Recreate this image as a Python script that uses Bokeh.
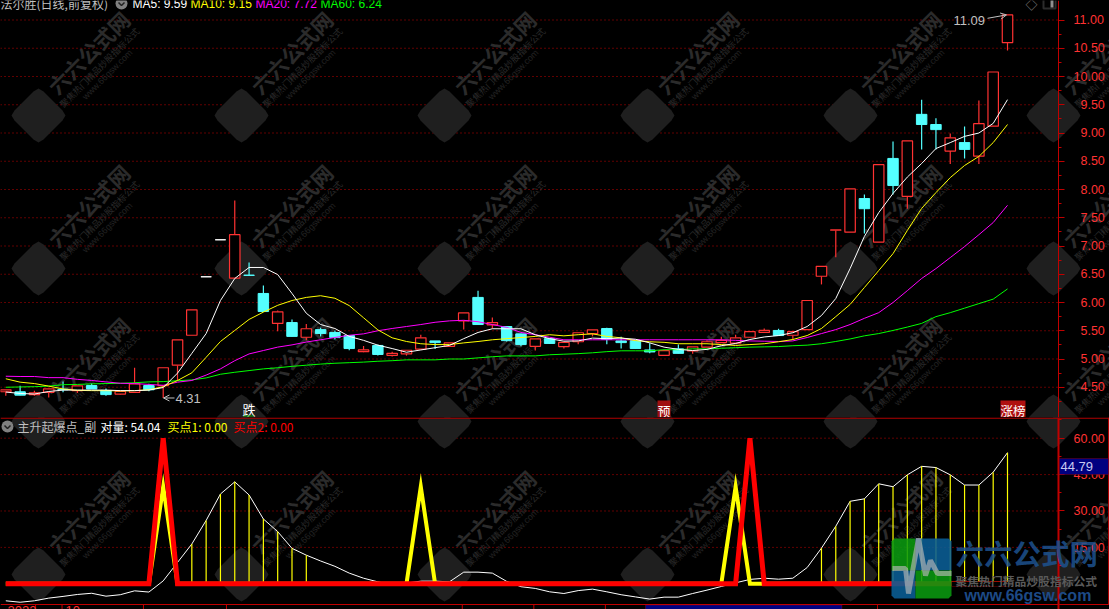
from bokeh.plotting import figure
from bokeh.layouts import column
from bokeh.embed import file_html
from bokeh.resources import INLINE
from bokeh.models import (Range1d, FixedTicker, CustomJSTickFormatter, Label, BoxAnnotation,
                          PolyAnnotation, Arrow, OpenHead)

# ---------- data ----------
open_ = [4.42,4.42,4.37,4.41,4.465,4.44,4.53,4.44,4.38,4.41,4.53,4.53,4.89,5.42,6.455,7.11,6.43,6.485,6.16,5.63,
         5.645,5.385,5.52,5.47,5.415,5.13,5.24,5.065,5.09,5.175,5.32,5.225,5.675,6.09,5.605,5.575,5.445,5.225,5.36,5.22,
         5.305,5.45,5.54,5.32,5.325,5.16,5.065,5.18,5.145,5.21,5.29,5.28,5.385,5.47,5.505,5.42,5.52,6.465,7.28,7.245,
         7.84,7.07,8.55,7.88,9.33,9.15,8.68,8.83,8.59,9.12,10.60]
close = [4.455,4.36,4.40,4.47,4.455,4.525,4.47,4.37,4.425,4.56,4.455,4.845,5.34,5.87,6.455,7.11,7.20,6.48,5.84,5.835,
         5.40,5.535,5.45,5.38,5.185,5.16,5.08,5.10,5.155,5.375,5.29,5.285,5.815,5.61,5.645,5.325,5.255,5.355,5.275,5.295,
         5.465,5.515,5.345,5.29,5.185,5.125,5.15,5.10,5.215,5.305,5.33,5.375,5.485,5.505,5.415,5.485,6.035,6.64,7.285,8.01,
         7.66,8.44,8.07,8.86,9.15,9.06,8.915,8.71,9.165,10.08,11.09]
high = [4.455,4.525,4.44,4.47,4.60,4.525,4.565,4.48,4.425,4.845,4.56,4.845,5.34,5.87,6.455,7.11,7.805,6.71,6.30,5.86,
        5.70,5.62,5.555,5.505,5.415,5.23,5.255,5.13,5.155,5.43,5.32,5.285,5.815,6.21,5.735,5.575,5.445,5.355,5.36,5.295,
        5.465,5.515,5.555,5.395,5.325,5.28,5.15,5.255,5.215,5.33,5.395,5.43,5.485,5.54,5.535,5.485,6.035,6.64,7.285,8.01,
        7.91,8.44,8.85,8.86,9.59,9.26,8.99,9.115,9.575,10.08,11.09]
low = [4.35,4.36,4.35,4.32,4.41,4.40,4.47,4.35,4.37,4.41,4.43,4.31,4.62,5.42,6.455,7.11,6.43,6.48,5.84,5.49,
       5.40,5.33,5.40,5.345,5.155,5.12,5.06,5.045,5.06,5.175,5.175,5.225,5.52,5.61,5.54,5.31,5.225,5.15,5.27,5.185,
       5.26,5.40,5.26,5.185,5.185,5.10,5.065,5.10,5.095,5.21,5.29,5.26,5.385,5.46,5.415,5.345,5.52,6.32,6.80,7.245,
       7.22,7.07,7.91,7.66,8.71,8.71,8.45,8.55,8.45,9.12,10.46]
ma5 = [4.415,4.39,4.38,4.425,4.45,4.45,4.45,4.45,4.44,4.44,4.45,4.495,4.75,5.10,5.45,6.035,6.425,6.62,6.62,6.495,
       6.16,5.81,5.61,5.54,5.40,5.33,5.245,5.185,5.12,5.16,5.20,5.24,5.36,5.47,5.535,5.535,5.535,5.43,5.36,5.315,
       5.32,5.37,5.36,5.37,5.35,5.285,5.21,5.17,5.15,5.17,5.235,5.275,5.345,5.39,5.415,5.465,5.575,5.77,6.07,6.60,
       7.17,7.59,7.93,8.22,8.46,8.725,8.83,8.94,9.00,9.17,9.59]
ma10 = [4.65,4.59,4.565,4.52,4.47,4.445,4.44,4.44,4.435,4.44,4.455,4.51,4.62,4.755,5.03,5.31,5.505,5.70,5.83,5.95,
        6.035,6.09,6.12,6.075,5.945,5.73,5.515,5.375,5.31,5.27,5.255,5.255,5.285,5.31,5.34,5.36,5.38,5.40,5.43,5.41,
        5.43,5.445,5.40,5.375,5.325,5.305,5.295,5.27,5.27,5.27,5.255,5.24,5.255,5.27,5.305,5.345,5.415,5.54,5.75,5.965,
        6.265,6.565,6.865,7.275,7.665,7.945,8.21,8.425,8.585,8.83,9.15]
ma20 = [4.695,4.69,4.69,4.67,4.67,4.64,4.62,4.595,4.57,4.565,4.55,4.535,4.59,4.62,4.715,4.825,4.97,5.09,5.15,5.21,
        5.25,5.30,5.34,5.38,5.42,5.445,5.50,5.54,5.575,5.61,5.65,5.675,5.685,5.66,5.61,5.56,5.47,5.43,5.385,5.34,
        5.34,5.34,5.34,5.34,5.34,5.34,5.34,5.34,5.34,5.34,5.34,5.33,5.32,5.315,5.31,5.32,5.38,5.45,5.52,5.61,
        5.72,5.82,6.00,6.21,6.425,6.60,6.795,6.99,7.20,7.415,7.72]
ma60 = [4.50,4.505,4.51,4.52,4.545,4.55,4.56,4.565,4.57,4.58,4.595,4.60,4.615,4.63,4.665,4.73,4.765,4.795,4.825,4.845,
        4.87,4.89,4.91,4.925,4.935,4.945,4.96,4.97,4.985,4.985,4.985,5.00,5.00,5.02,5.04,5.055,5.055,5.055,5.075,5.085,
        5.095,5.11,5.13,5.145,5.145,5.145,5.165,5.165,5.18,5.18,5.19,5.20,5.21,5.215,5.22,5.235,5.245,5.27,5.31,5.355,
        5.41,5.45,5.505,5.565,5.63,5.75,5.82,5.90,5.98,6.06,6.24]
duiliang = [-7.0,-7.6,-7.0,-5.9,-5.2,-4.4,-3.9,-5.1,-4.5,-2.9,-3.4,1.2,8.8,16.4,26.1,37.0,42.0,36.6,26.7,21.5,
            14.6,11.8,9.4,7.2,4.4,2.3,0.8,-0.4,0.3,1.1,1.1,0.8,4.8,4.8,4.4,1.0,-1.2,-1.9,-3.3,-4.0,
            -2.8,-2.2,-3.3,-4.5,-5.4,-6.3,-5.5,-5.5,-4.0,-2.6,-1.1,0.4,1.8,2.3,1.9,2.3,6.7,14.7,23.7,34.0,
            35.0,41.2,40.0,44.9,48.4,47.9,44.9,40.7,40.7,46.0,54.04]
buy1_peaks = {11: 40.0, 29: 40.0, 51: 40.0}
buy2_peaks = {11: 60.0, 52: 60.0}
stem_days = list(range(13, 22)) + list(range(57, 71))
price_ticks = [4.5,5.0,5.5,6.0,6.5,7.0,7.5,8.0,8.5,9.0,9.5,10.0,10.5,11.0]
price_minor = [4.25,4.75,5.25,5.75,6.25,6.75,7.25,7.75,8.25,8.75,9.25,9.75,10.25,10.75]
sub_ticks = [15.0,30.0,45.0,60.0]
sub_minor = [7.5,22.5,37.5,52.5,67.5]
date_ticks = [2.08,3.93,9.62,15.42,31.9,36.9,41.9]

n = len(open_)
for arr in (close, high, low, ma5, ma10, ma20, ma60, duiliang):
    assert len(arr) == n, len(arr)
days = list(range(n))
buy1 = [buy1_peaks.get(i, 0.0) for i in days]
buy2 = [buy2_peaks.get(i, 0.0) for i in days]

# ---------- colours ----------
BG = "#000000"; RED = "#ff3232"; CYAN = "#54ffff"; GRID = "#c00000"; FRAME = "#b00000"
YEL = "#ffff00"; MAG = "#ff00ff"; GRN = "#00ff00"; GREY = "#c0c0c0"; BRED = "#ff0000"
CJK = "Noto Sans CJK SC"; LAT = "Liberation Sans"

# ---------- geometry (pixels in the window) ----------
W = 1109; AXIS_X = 1058; TOP_BASE = 417; SUB_BASE = 609; SUB_LINE = 604
X0, DX = 5.3, 14.31
xr = ((0 - X0) / DX, (W - X0) / DX)
def X(px): return (px - X0) / DX
def PY(py): return 5.0 + (358.5 - py) / 56.5
def SY(py): return (583.3 - py) / 2.427

def mk(height, yr, with_x):
    f = figure(width=W, height=height, x_range=Range1d(*xr), y_range=Range1d(*yr),
               output_backend="svg", toolbar_location=None, y_axis_location="right",
               x_axis_location="below" if with_x else None,
               background_fill_color=BG, border_fill_color=BG, outline_line_color=None,
               min_border_left=0, min_border_top=0, min_border_right=0, min_border_bottom=0)
    f.xgrid.visible = False
    f.ygrid.visible = False
    return f

fmt = CustomJSTickFormatter(code="const s = tick.toFixed(2); return s.length < 5 ? '\\u2007' + s : s;")

def style_y(f, ticks, minor, line_w):
    ax = f.yaxis[0]
    ax.fixed_location = X(AXIS_X)
    ax.ticker = FixedTicker(ticks=ticks, minor_ticks=minor)
    ax.formatter = fmt
    ax.axis_line_color = "#c00000"; ax.axis_line_width = line_w
    ax.major_tick_line_color = "#c00000"; ax.minor_tick_line_color = "#c00000"
    ax.major_tick_out = 6; ax.major_tick_in = 0; ax.minor_tick_out = 3; ax.minor_tick_in = 0
    ax.major_label_standoff = 9
    ax.major_label_text_color = RED; ax.major_label_text_font = LAT
    ax.major_label_text_font_size = "12.5px"
    # dotted level lines stop at the axis
    f.segment([X(0)] * len(ticks), ticks, [X(AXIS_X)] * len(ticks), ticks, line_color=GRID, line_dash="1 3",
              line_width=1, level="underlay")

def label(f, base, text, x, y, color, size="12px", font=CJK, **kw):
    f.add_layout(Label(x=x, y=base - y, x_units="screen", y_units="screen", text=text, text_color=color,
                       text_font=font, text_font_size=size,
                       text_baseline=kw.pop("text_baseline", "middle"), **kw))

def box(f, base, x0, x1, y0, y1, fill, line=None, **kw):
    f.add_layout(BoxAnnotation(left=x0, right=x1, top=base - y0, bottom=base - y1,
                               left_units="screen", right_units="screen", top_units="screen", bottom_units="screen",
                               fill_color=fill, line_color=line, fill_alpha=1 if fill else 0, **kw))

def poly(f, base, pts, fill, alpha=1.0, level="annotation"):
    f.add_layout(PolyAnnotation(xs=[a for a, _ in pts], ys=[base - b for _, b in pts],
                                xs_units="screen", ys_units="screen", fill_color=fill, fill_alpha=alpha,
                                line_color=None, level=level))

# watermark shared by both panels
WM_X = [38, 241, 444, 647, 850, 1053]
WM_Y = [115, 268, 421, 574]
D = 29; C = 5
DIAMOND = [(-D + C, -C), (-C, -D + C), (0, -D + 2), (C, -D + C), (D - C, -C), (D - 2, 0), (D - C, C), (C, D - C),
           (0, D - 2), (-C, D - C), (-D + C, C), (-D + 2, 0)]
PULSE = [(-17, 5), (-8, 5), (-5, 18), (3, -10), (8, 10), (12, 0), (22, 0)]
def watermark(f, base, marks, texts, yfun):
    for wy in marks:
        for wx in WM_X:
            poly(f, base, [(wx + a, wy + b) for a, b in DIAMOND], "#1f1f1f", level="underlay")
            f.line([X(wx + a) for a, _ in PULSE], [yfun(wy + b) for _, b in PULSE], line_color="#3a3a3a",
                   line_width=3, level="underlay")
    for wy in texts:
        for wx in WM_X:
            lv = dict(angle=45, angle_units="deg", text_align="center", level="underlay")
            label(f, base, "六六公式网", wx + 50, wy - 63, "#2b2b2b", "21px", text_font_style="bold", **lv)
            label(f, base, "聚焦热门精品炒股指标公式", wx + 61, wy - 48, "#2b2b2b", "9px", **lv)
            label(f, base, "www.66gsw.com", wx + 69, wy - 41, "#222222", "9px", font=LAT, **lv)

def chevron(f, px, py, yfun):
    f.scatter([X(px)], [yfun(py)], size=12, marker="circle", fill_color="#808080", line_color=None)
    f.line([X(px - 3), X(px), X(px + 3)], [yfun(py - 1), yfun(py + 2), yfun(py - 1)], line_color="#202020", line_width=1.5)

# ---------- price panel ----------
p = mk(TOP_BASE, (PY(TOP_BASE), PY(0)), False)
watermark(p, TOP_BASE, WM_Y[:3], WM_Y[:3], PY)
style_y(p, price_ticks, price_minor, 1)

ups = [i for i in days if close[i] > open_[i]]
flat = [i for i in days if close[i] == open_[i]]
dns = [i for i in days if close[i] < open_[i]]
up_top = [close[i] for i in ups]; up_bot = [open_[i] for i in ups]
p.segment(ups, up_top, ups, [high[i] for i in ups], line_color=RED, line_width=1.2)
p.segment(ups, up_bot, ups, [low[i] for i in ups], line_color=RED, line_width=1.2)
p.vbar(x=ups, top=up_top, bottom=up_bot, width=0.73, fill_color=BG, line_color=RED, line_width=1.2)
p.segment(dns, [high[i] for i in dns], dns, [low[i] for i in dns], line_color=CYAN, line_width=1.2)
p.vbar(x=dns, top=[open_[i] for i in dns], bottom=[close[i] for i in dns], width=0.73, fill_color=CYAN, line_color=CYAN)
p.vbar(x=flat, top=[close[i] for i in flat], bottom=[open_[i] for i in flat], width=0.73, line_color="#ffffff", fill_color="#ffffff")

p.line(days, ma60, line_color=GRN, line_width=1)
p.line(days, ma20, line_color=MAG, line_width=1)
p.line(days, ma10, line_color=YEL, line_width=1)
p.line(days, ma5, line_color="#ffffff", line_width=1)

chevron(p, 121, 3, PY)
label(p, TOP_BASE, "法尔胜(日线,前复权)", 0, 3, GREY)
for txt, x, col in [("MA5: 9.59", 132, "#ffffff"), ("MA10: 9.15", 190, YEL), ("MA20: 7.72", 255, MAG), ("MA60: 6.24", 320, GRN)]:
    label(p, TOP_BASE, txt, x, 3, col, font=LAT)
label(p, TOP_BASE, "◇", 1025, 4, "#808080", "12px")
box(p, TOP_BASE, 1043, 1055, -2, 8, None, "#909090", line_width=2)
box(p, TOP_BASE, 1050, 1053, -2, 7, "#909090")

p.add_layout(Arrow(end=OpenHead(size=6, line_color=GREY, line_width=1), x_start=X(174), y_start=4.31, x_end=X(163), y_end=4.31,
                   line_color=GREY, line_width=1))
label(p, TOP_BASE, "4.31", 175, 397.5, GREY, "13px", font=LAT)
p.add_layout(Arrow(end=OpenHead(size=6, line_color=GREY, line_width=1), x_start=X(987), y_start=11.03, x_end=X(1006), y_end=11.09,
                   line_color=GREY, line_width=1))
label(p, TOP_BASE, "11.09", 953, 19.5, GREY, "13px", font=LAT)
label(p, TOP_BASE, "跌", 242, 409, "#ffffff", "13px")
box(p, TOP_BASE, 243, 253, 415, 416, "#00a000")
label(p, TOP_BASE, "预", 657, 409.5, "#ffffff", "13px", background_fill_color="#a01010")
label(p, TOP_BASE, "涨榜", 1000, 409.5, "#ffffff", "12.5px", background_fill_color="#b01010")

# ---------- indicator panel ----------
q = mk(SUB_BASE - TOP_BASE, (SY(SUB_BASE), SY(TOP_BASE)), True)
watermark(q, SUB_BASE, WM_Y[2:], WM_Y[3:], SY)
style_y(q, sub_ticks, sub_minor, 2)
xa = q.xaxis[0]
xa.fixed_location = SY(SUB_LINE)
xa.ticker = FixedTicker(ticks=[])
xa.axis_line_color = "#c00000"; xa.axis_line_width = 1
q.segment(date_ticks, [SY(SUB_LINE)] * len(date_ticks), date_ticks, [SY(SUB_BASE)] * len(date_ticks), line_color="#c00000")

q.line(days, duiliang, line_color="#ffffff", line_width=1)
q.segment(stem_days, [0.0] * len(stem_days), stem_days, [duiliang[i] for i in stem_days], line_color=YEL, line_width=1.2)
q.line(days, buy1, line_color=YEL, line_width=4, line_join="miter")
q.line(days, buy2, line_color=BRED, line_width=5, line_join="miter")

chevron(q, 7, 426, SY)
label(q, SUB_BASE, "主升起爆点_副", 17, 426, GREY)
label(q, SUB_BASE, "对量: 54.04", 100, 426, "#ffffff")
label(q, SUB_BASE, "买点1: 0.00", 167, 426, YEL)
label(q, SUB_BASE, "买点2: 0.00", 233, 426, BRED)

# chrome of the panels
box(q, SUB_BASE, 0, W, 417, 418.2, FRAME)
box(q, SUB_BASE, 1107.5, 1108.5, 417, 604, FRAME)
box(q, SUB_BASE, 876.5, 877.5, 604, 609, FRAME)
# current value flag
box(q, SUB_BASE, 1059, 1108, 458, 474, "#000080", "#c00000")
label(q, SUB_BASE, "44.79", 1060, 466, "#c8c8f0", "13px", font=LAT)
# status row (only the top of it is inside the window)
box(q, SUB_BASE, 645, 841.5, 604.5, 612, "#000080", "#c00000")
label(q, SUB_BASE, "2022/04/28/四 20 而今涨幅114.86%", 647, 604.5, "#ffffff", "13px", text_baseline="top")
label(q, SUB_BASE, "2022", 7, 605, RED, "13px", font=LAT, text_baseline="top")
label(q, SUB_BASE, "10", 65, 605, RED, "13px", font=LAT, text_baseline="top")
label(q, SUB_BASE, "日线", 1072, 605, GREY, "12px", text_baseline="top")

# site logo
box(q, SUB_BASE, 951, 1058, 581.3, 585.5, BG)
poly(q, SUB_BASE, [(891, 541), (894, 538), (915, 538), (915, 570), (891, 570)], "#0a9a10", 0.88)
poly(q, SUB_BASE, [(915, 538), (948, 538), (951, 541), (951, 570), (915, 570)], "#0a5f96", 0.88)
poly(q, SUB_BASE, [(891, 570), (915, 570), (915, 598), (894, 598), (891, 595)], "#0a5f96", 0.88)
poly(q, SUB_BASE, [(915, 570), (951, 570), (951, 595), (948, 598), (915, 598)], "#0a9a10", 0.88)
pulse_x = [892, 905, 908, 918, 925, 930, 937, 951]
pulse_y = [568, 568, 593, 538, 575, 560, 573, 573]
q.line([X(v) for v in pulse_x], [SY(v) for v in pulse_y], line_color="#b8b8b8", line_alpha=0.65, line_width=5, level="overlay")
label(q, SUB_BASE, "六六公式网", 955, 552, "#1d5290", "28.5px", text_font_style="bold", text_alpha=0.85)
label(q, SUB_BASE, "聚焦热门精品炒股指标公式", 955, 580, "#5a5a5a", "11.8px", text_font_style="bold")
label(q, SUB_BASE, "www.66gsw.com", 964, 595, "#1d4a86", "16px", font=LAT, text_font_style="bold")

html = file_html(column(p, q, spacing=0), INLINE)
html = html.replace("<head>", "<head><style>html,body{margin:0;padding:0;background:#000;overflow:hidden}</style>", 1)
open("out.html", "w").write(html)
